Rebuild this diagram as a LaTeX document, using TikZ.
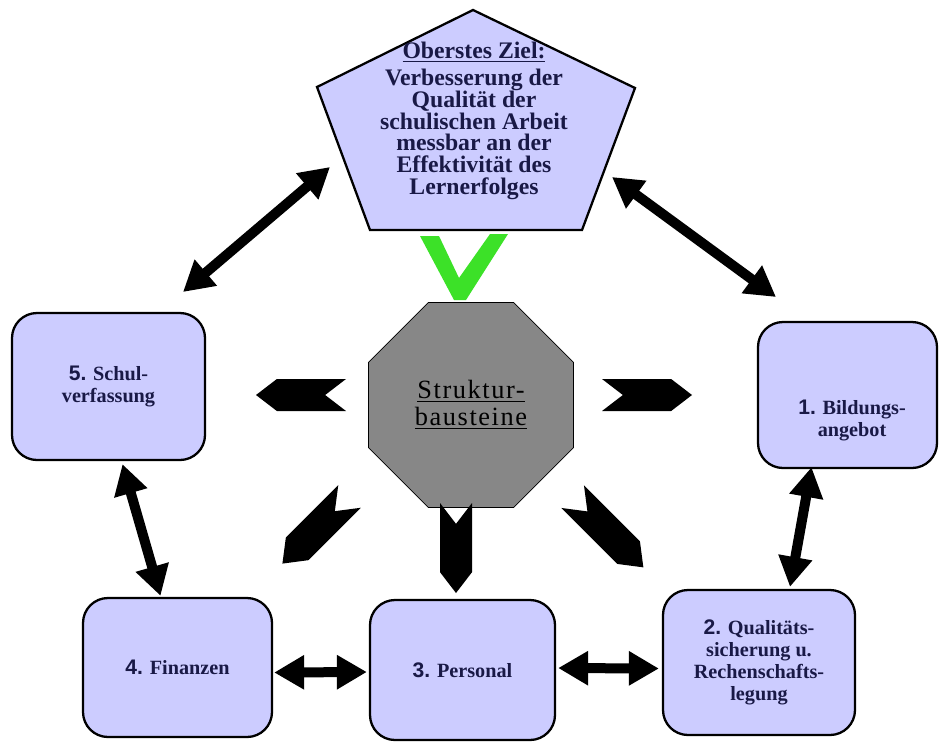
\documentclass[tikz,border=0pt]{standalone}
\usepackage{fontspec}
\setmainfont{Liberation Serif}
\setsansfont{Liberation Sans}
\newfontfamily\strukfont[LetterSpace=6]{Liberation Serif}
\usetikzlibrary{arrows.meta,%
                shapes,calc}
\definecolor{lila}{RGB}{204,204,255}
\definecolor{tinte}{RGB}{25,25,70}
\definecolor{grau}{RGB}{135,135,135}
\definecolor{gruen}{RGB}{60,225,40}
\newcommand{\nr}[1]{{\sffamily\large #1}}

\begin{document}
\begin{tikzpicture}[x=0.2mm,y=-0.2mm,
  baustein/.style={draw,line width=1.3pt,fill=lila,rounded corners=5mm,text=tinte,
    font=\bfseries\fontsize{11.5}{12.5}\selectfont,align=center,inner sep=0pt},
  bautext/.style={text=tinte,font=\bfseries\fontsize{11.5}{12.5}\selectfont,align=center},
  doppelpfeil/.style={line width=2mm,{Triangle[length=6mm,width=6.5mm]}-{Triangle[length=6mm,width=6.5mm]}},
  keil/.style={shape=signal,signal from=west,signal to=east,signal pointer angle=75,
    fill=black,minimum width=18mm,minimum height=6.4mm,inner sep=0pt}]
\path[fill=white,use as bounding box] (0,0) rectangle (940,744);
\draw[line width=1.3pt,fill=lila] (473,10) -- (635,88) -- (582,230) -- (370,230) -- (317,87) -- cycle;
\node[text=tinte,font=\bfseries\fontsize{13.5}{12.4}\selectfont,align=center] (ziel) at (474,121)
  {\underline{Oberstes Ziel:}\\[1mm] Verbesserung der\\Qualität der\\schulischen Arbeit\\messbar an der\\Effektivität des\\Lernerfolges};
\node[regular polygon,regular polygon sides=8,minimum size=44.4mm,fill=grau,draw,thin,
  font=\strukfont\fontsize{15}{15.5}\selectfont,align=center] (struktur) at (471,405)
  {\underline{Struktur-}\\\underline{bausteine}};
\fill[gruen] (420,236) -- (439,236) -- (459,278) -- (490,234) -- (508,234) -- (466,300) -- (454,300) -- cycle;
\node[baustein,minimum width=38.6mm,minimum height=29.4mm] (b5) at (108.5,386.5) {\nr{5.} Schul-\\verfassung};
\node[baustein,minimum width=35.8mm,minimum height=29.2mm] (b1) at (847.5,395) {};
\node[bautext] (t1) at (852,420) {\nr{1.} Bildungs-\\angebot};
\node[baustein,minimum width=37.8mm,minimum height=27.8mm] (b4) at (177.5,667.5) {\nr{4.} Finanzen};
\node[baustein,minimum width=37mm,minimum height=28mm] (b3) at (462.5,670) {\nr{3.} Personal};
\node[baustein,minimum width=38.4mm,minimum height=29mm] (b2) at (759,662.5) {\nr{2.} Qualitäts-\\sicherung u.\\Rechenschafts-\\legung};
\node[keil,rotate=180] (kl) at (301,395) {};
\node[keil] (kr) at (647,395) {};
\node[keil,rotate=225,minimum width=19mm] (kll) at (316,530) {};
\node[keil,rotate=-90] (ku) at (456,548) {};
\node[keil,rotate=-45,minimum width=20mm] (klr) at (608,532) {};
\coordinate (p5) at (183,292);
\coordinate (pz5) at (330,167);
\coordinate (pz1) at (612,177);
\coordinate (p1) at (776,297);
\draw[doppelpfeil] (p5) -- (pz5);
\draw[doppelpfeil] (pz1) -- (p1);
\draw[doppelpfeil] ($(b5.south)+(14,3)$) -- ($(b4.north)+(-17,-1)$);
\draw[doppelpfeil] ($(b1.south)+(-36,-2)$) -- ($(b2.north)+(31,-2)$);
\draw[doppelpfeil] ($(b4.east)+(1,5)$) -- ($(b3.west)+(-2,2)$);
\draw[doppelpfeil] ($(b3.east)+(2,-2)$) -- ($(b2.west)+(-3,6)$);
\end{tikzpicture}
\end{document}
